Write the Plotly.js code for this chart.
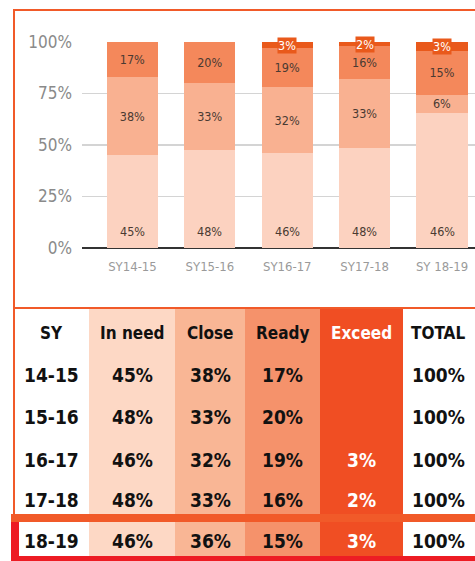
<!DOCTYPE html>
<html>
<head>
<meta charset="utf-8">
<script src="https://cdn.plot.ly/plotly-3.0.1.min.js"></script>
<style>html,body{margin:0;padding:0;background:#fff;}#chart{width:475px;height:561px;}</style>
</head>
<body>
<div id="chart"></div>
<script>
// ---- chart data (as printed on the bars) ----
const years = ['SY14-15', 'SY15-16', 'SY16-17', 'SY17-18', 'SY 18-19'];
const chartInNeed = [45, 48, 46, 48, 46];
const chartClose = [38, 33, 32, 33, 6];
const chartReady = [17, 20, 19, 16, 15];
const chartExceed = [null, null, 3, 2, 3];
const yTicks = [0, 25, 50, 75, 100];

// ---- table data ----
const tableHeaders = ['SY', 'In need', 'Close', 'Ready', 'Exceed', 'TOTAL'];
const tableSY = ['14-15', '15-16', '16-17', '17-18', '18-19'];
const tableInNeed = [45, 48, 46, 48, 46];
const tableClose = [38, 33, 32, 33, 36];
const tableReady = [17, 20, 19, 16, 15];
const tableExceed = [null, null, 3, 2, 3];
const tableTotal = [100, 100, 100, 100, 100];

// ---- styling ----
const W = 475, H = 561;
const NARROW = '"DejaVu Sans Condensed", "DejaVu Sans", sans-serif';
const barColors = ['#fcd2c0', '#f9b191', '#f4885b', '#e9591b'];
const colFill = ['#ffffff', '#fdd8c5', '#f9b695', '#f5926b', '#f04e23', '#ffffff'];
const orange = '#f15a29', red = '#ed1c24';
const labelColor = '#4a3a32';

const px = v => v / W;
const py = v => 1 - v / H;
const pct = arr => arr.map(v => (v === null ? '' : v + '%'));

function barTrace(name, vals, color, withText) {
  const t = {
    type: 'bar', name: name, x: years, y: vals,
    marker: {color: color, line: {width: 0}}, hoverinfo: 'skip'
  };
  if (withText) {
    Object.assign(t, {
      text: pct(vals), texttemplate: '%{text}',
      textposition: 'inside', insidetextanchor: 'middle',
      textangle: 0, constraintext: 'none', cliponaxis: false,
      textfont: {family: NARROW, size: 12.5, color: labelColor}
    });
  }
  return t;
}
const traces = [
  barTrace('In need', chartInNeed, barColors[0], false),
  barTrace('Close', chartClose, barColors[1], true),
  barTrace('Ready', chartReady, barColors[2], true),
  barTrace('Exceed', chartExceed, barColors[3], false)
];

const annotations = [];
// "In need" labels sit near the foot of each bar
years.forEach((yr, i) => {
  annotations.push({xref: 'x', yref: 'y', x: yr, y: 0, yanchor: 'bottom', yshift: 7,
    xanchor: 'center', showarrow: false, text: chartInNeed[i] + '%',
    font: {family: NARROW, size: 12.5, color: labelColor}});
});
// exceed labels: centred on the (normalised) exceed segment at the top of each bar
years.forEach((yr, i) => {
  if (chartExceed[i] === null) return;
  const total = chartInNeed[i] + chartClose[i] + chartReady[i] + chartExceed[i];
  const share = chartExceed[i] / total * 100;
  annotations.push({xref: 'x', yref: 'y', x: yr, y: 100 - share / 2,
    xanchor: 'center', yanchor: 'middle', showarrow: false, text: chartExceed[i] + '%',
    bgcolor: barColors[3], borderpad: 0,
    font: {family: NARROW, size: 12.5, color: '#ffffff'}});
});

// ---- table geometry (pixels) ----
const colEdges = [14, 89, 175, 245, 320, 403, 475];
const colCenters = [51.5, 132, 210, 282.5, 361, 438];
const headerY = 333;
const rowCenters = [375, 417, 460, 500, 541];
const tableTop = 309, tableBottom = 561;

const shapes = [];
shapes.push({type: 'rect', xref: 'paper', yref: 'paper', x0: px(14), x1: px(500), y0: py(10), y1: py(308),
  line: {color: orange, width: 2}, fillcolor: 'rgba(0,0,0,0)', layer: 'below'});
for (let c = 1; c <= 4; c++) {
  shapes.push({type: 'rect', xref: 'paper', yref: 'paper', x0: px(colEdges[c]), x1: px(colEdges[c + 1]),
    y0: py(tableTop), y1: py(tableBottom), line: {width: 0}, fillcolor: colFill[c], layer: 'below'});
}
shapes.push({type: 'line', xref: 'paper', yref: 'paper', x0: px(14), x1: px(14), y0: py(308), y1: py(514),
  line: {color: orange, width: 2}});
shapes.push({type: 'rect', xref: 'paper', yref: 'paper', x0: px(11), x1: px(480), y0: py(514), y1: py(522),
  line: {width: 0}, fillcolor: orange});
shapes.push({type: 'rect', xref: 'paper', yref: 'paper', x0: px(11), x1: px(19), y0: py(522), y1: py(561),
  line: {width: 0}, fillcolor: red});
shapes.push({type: 'rect', xref: 'paper', yref: 'paper', x0: px(11), x1: px(480), y0: py(556), y1: py(561),
  line: {width: 0}, fillcolor: red});

function cellText(txt, c, yPix, size) {
  annotations.push({xref: 'paper', yref: 'paper', x: px(colCenters[c]), y: py(yPix),
    xanchor: 'center', yanchor: 'middle', showarrow: false, text: txt,
    font: {family: NARROW, size: size, weight: 'bold', color: c === 4 ? '#ffffff' : '#111111'}});
}
tableHeaders.forEach((h, c) => cellText(h, c, headerY, 17));
const tableCols = [tableSY, pct(tableInNeed), pct(tableClose), pct(tableReady), pct(tableExceed), pct(tableTotal)];
tableCols.forEach((col, c) => col.forEach((v, r) => { if (v !== '') cellText(v, c, rowCenters[r], 19); }));

const layout = {
  width: W, height: H,
  margin: {l: 0, r: 0, t: 0, b: 0},
  paper_bgcolor: '#ffffff', plot_bgcolor: 'rgba(0,0,0,0)',
  barmode: 'stack', barnorm: 'percent', bargap: 0.34,
  showlegend: false,
  xaxis: {domain: [82 / W, 1], range: [-0.652, 4.426], type: 'category',
    showgrid: false, zeroline: false, showline: false, ticks: '',
    tickfont: {family: NARROW, size: 13, color: '#9a9a9a'}, ticklabelstandoff: 9, fixedrange: true},
  yaxis: {domain: [1 - 248 / H, 1 - 42 / H], range: [0, 100],
    tickmode: 'array', tickvals: yTicks, ticktext: yTicks.map(v => v + '%'),
    showgrid: true, gridcolor: '#d4d4d4', gridwidth: 1.5,
    zeroline: true, zerolinecolor: '#333333', zerolinewidth: 2, showline: false, ticks: '',
    tickfont: {family: NARROW, size: 17, color: '#8a8a8a'}, ticklabelstandoff: 9, fixedrange: true},
  shapes: shapes,
  annotations: annotations
};

Plotly.newPlot('chart', traces, layout, {displayModeBar: false, staticPlot: true});
</script>
</body>
</html>
